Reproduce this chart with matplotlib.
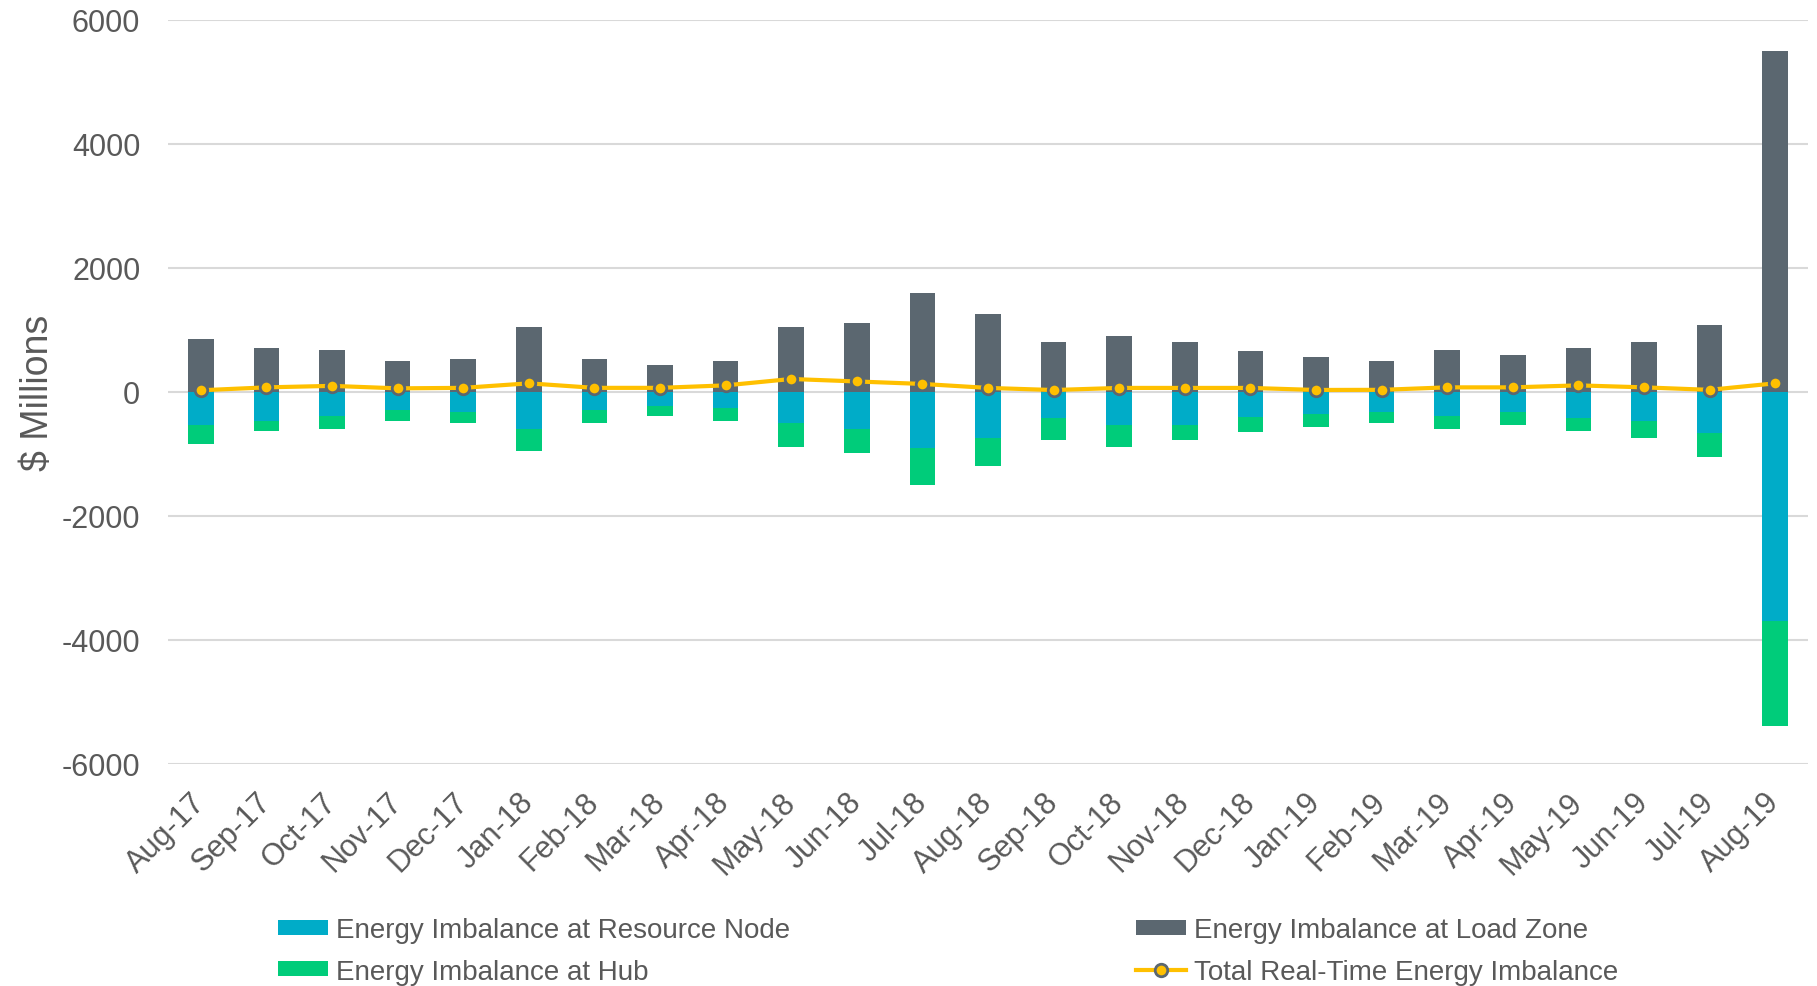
import matplotlib
matplotlib.use("Agg")
import matplotlib.pyplot as plt
import numpy as np

months = ["Aug-17", "Sep-17", "Oct-17", "Nov-17", "Dec-17", "Jan-18", "Feb-18", "Mar-18",
          "Apr-18", "May-18", "Jun-18", "Jul-18", "Aug-18", "Sep-18", "Oct-18", "Nov-18",
          "Dec-18", "Jan-19", "Feb-19", "Mar-19", "Apr-19", "May-19", "Jun-19", "Jul-19", "Aug-19"]

load_zone = [845, 700, 667, 490, 530, 1053, 530, 426,
             490, 1043, 1112, 1597, 1251, 801, 905, 801,
             663, 560, 490, 667, 595, 699, 804, 1085, 5490]
resource_node = [-540, -466, -394, -297, -330, -595, -297, -225,
                 -259, -507, -599, -911, -744, -427, -542, -542,
                 -398, -360, -322, -386, -322, -426, -466, -659, -3698]
hub = [-305, -169, -209, -169, -168, -362, -201, -169,
       -208, -375, -381, -588, -449, -351, -340, -236,
       -242, -207, -176, -209, -208, -209, -274, -386, -1688]
total = [25, 72, 96, 56, 64, 137, 64, 64,
         104, 207, 167, 127, 63, 29, 63, 63,
         63, 30, 32, 72, 72, 104, 72, 32, 137]

C_LOAD = "#5B6770"
C_RES = "#00ACC8"
C_HUB = "#00CC7A"
C_TOT = "#FFC000"
TXT = "#595959"

plt.rcParams['font.family'] = ['Liberation Sans', 'DejaVu Sans']
plt.rcParams['axes.unicode_minus'] = False

fig = plt.figure(figsize=(18.17, 9.87), dpi=100)
ax = fig.add_axes([0.0925, 0.225, 0.9025, 0.754])

x = np.arange(len(months))
w = 0.39
res = np.array(resource_node)
b_res = ax.bar(x, res, w, color=C_RES, zorder=2, label="Energy Imbalance at Resource Node")
b_hub = ax.bar(x, hub, w, bottom=res, color=C_HUB, zorder=2, label="Energy Imbalance at Hub")
b_load = ax.bar(x, load_zone, w, color=C_LOAD, zorder=2, label="Energy Imbalance at Load Zone")
ln, = ax.plot(x, total, color=C_TOT, lw=3, marker='o', markersize=9,
              markerfacecolor=C_TOT, markeredgecolor=C_LOAD, markeredgewidth=2,
              zorder=3, label="Total Real-Time Energy Imbalance")

ax.set_ylim(-6000, 6000)
ax.set_xlim(-0.5, len(months) - 0.5)
ax.set_yticks(np.arange(-6000, 6001, 2000))
ax.yaxis.grid(True, color="#D9D9D9", lw=1.5, zorder=0)
ax.set_axisbelow(True)
for s in ax.spines.values():
    s.set_visible(False)
ax.tick_params(axis='both', length=0, labelsize=22, colors=TXT)
ax.tick_params(axis='y', pad=20)
ax.set_xticks(x)
ax.set_xticklabels(months, rotation=45, ha='right', va='center', rotation_mode='anchor')
ax.tick_params(axis='x', pad=24)
ax.set_ylabel("$ Millions", fontsize=27, color=TXT, labelpad=4)

leg = fig.legend(handles=[b_res, b_hub, b_load, ln], ncol=2, loc='lower left',
                 bbox_to_anchor=(0.139, -0.024), frameon=False, fontsize=20,
                 labelcolor=TXT, handlelength=1.8, handleheight=0.45, handletextpad=0.3,
                 columnspacing=12.45, labelspacing=0.55)

fig.savefig("out.png", dpi=100)
